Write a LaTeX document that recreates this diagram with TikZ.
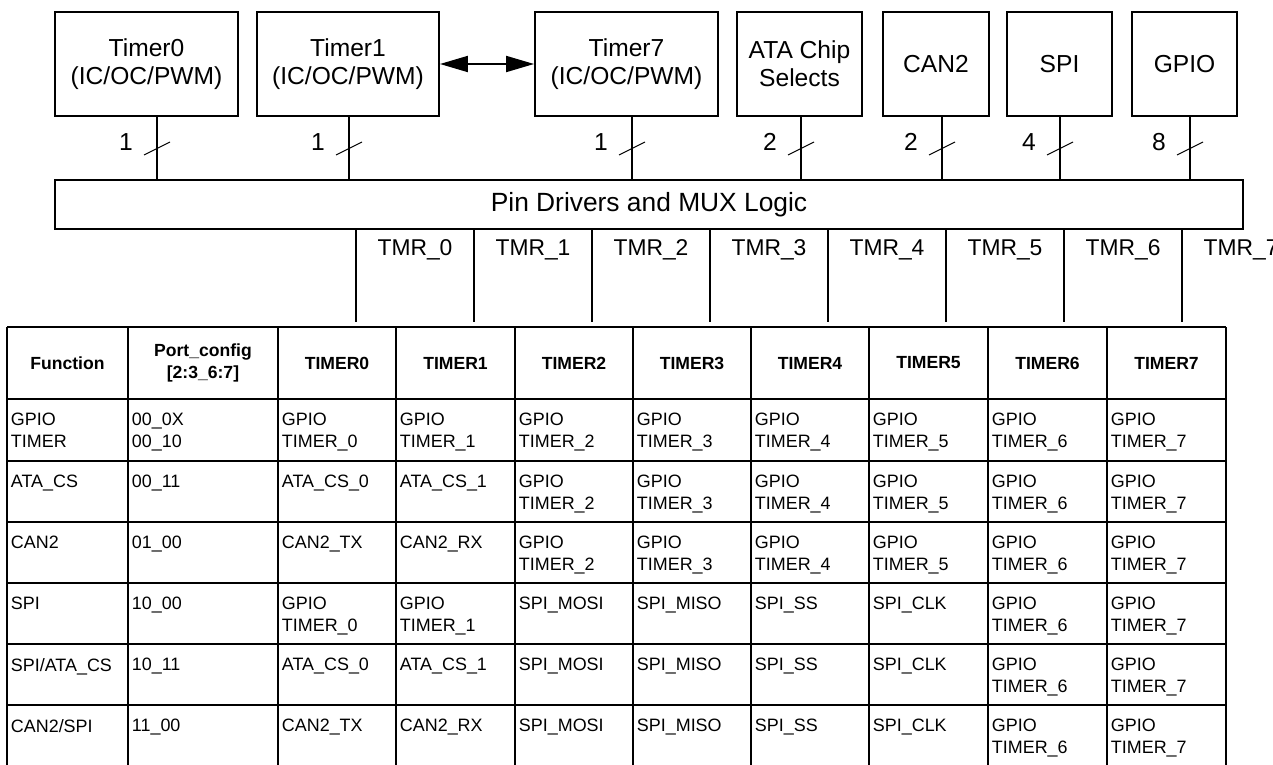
\documentclass[tikz,border=0pt]{standalone}
\usepackage{fontspec}
\setmainfont{Liberation Sans}
\usetikzlibrary{
  arrows.meta,
  calc,
}

\begin{document}
\begin{tikzpicture}[
  x=0.02cm, y=-0.02cm,
  line width=1.1pt,
  blk/.style={draw, align=center, minimum height=2.08cm, inner sep=0pt,
    font=\fontsize{14}{15.9}\selectfont},
  slash/.style={line width=0.6pt},
  wlbl/.style={font=\fontsize{14}{16}\selectfont},
  tmr/.style={font=\fontsize{13}{15}\selectfont},
  hdr/.style={font=\fontsize{10}{12.5}\selectfont\bfseries, align=center},
  cell/.style={font=\fontsize{10.2}{12.5}\selectfont, align=left,
    anchor=north west, inner sep=0pt},
]
  \useasboundingbox (0,0) rectangle (1273,764);

  % Peripheral blocks
  \node[blk, minimum width=3.66cm] (t0) at (146.5,64) {Timer0\\(IC/OC/PWM)};
  \node[blk, minimum width=3.64cm] (t1) at (348,64) {Timer1\\(IC/OC/PWM)};
  \node[blk, minimum width=3.66cm] (t7) at (626.5,64) {Timer7\\(IC/OC/PWM)};
  \node[blk, minimum width=2.5cm] (ata) at (799.5,64) {ATA Chip\\Selects};
  \node[blk, minimum width=2.12cm] (can) at (936,64) {CAN2};
  \node[blk, minimum width=2.1cm] (spi) at (1059.5,64) {SPI};
  \node[blk, minimum width=2.1cm] (gpio) at (1184.5,64) {GPIO};
  \draw[{Triangle[length=0.56cm,width=0.32cm]}-{Triangle[length=0.56cm,width=0.32cm]}]
    (t1.east) -- (t7.west);

  % Pin drivers
  \node[draw, minimum width=23.76cm, minimum height=0.98cm,
    font=\fontsize{15}{17}\selectfont] (pin) at (649,204.5)
    {Pin Drivers and MUX Logic};

  % Buses into the pin drivers
  \coordinate (sl) at (0,148.5);
  \coordinate (wl) at (0,142);
  \foreach \b/\w/\dx in {t0/1/10.5, t1/1/1, t7/1/5.5, ata/2/1.5, can/2/6, spi/4/0.5, gpio/8/5.5} {
    \coordinate (bt) at ($(\b.south)+(\dx,0)$);
    \draw (bt) -- (bt |- pin.north);
    \draw[slash] ($(bt |- sl)+(-13,6.5)$) -- ++(26,-13);
    \node[wlbl] (w\b) at ($(bt |- wl)+(-31,0)$) {\w};
  }

  % Timer outputs
  \foreach \i in {0,...,7} {
    \coordinate (tk\i) at ({356+118*\i},322);
    \draw (tk\i |- pin.south) -- (tk\i);
    \node[tmr] (tmr\i) at ({415+118*\i},250) {TMR\_\i};
  }

  % Table grid
  \foreach \x in {7,128,278,396,515,633,751,869,988,1107,1226}
    \draw (\x,327) -- (\x,767);
  \foreach \y in {327,399,461,522,583,644,705}
    \draw (7,\y) -- (1226,\y);

  % Header
  \node[hdr] (hfun) at (67.5,363) {Function};
  \node[hdr] (hcfg) at (203,363) {Port\_config\\{}[2:3\_6:7]};
  \foreach \i/\cx in {0/337, 1/455.5, 2/574, 3/692, 4/810, 5/928.5, 6/1047.5, 7/1166.5}
    \node[hdr] (h\i) at (\cx,363) {TIMER\i};

  % Rows
  \foreach \x/\t in {7/{GPIO\\TIMER}, 128/{00\_0X\\00\_10}, 278/{GPIO\\TIMER\_0},
      396/{GPIO\\TIMER\_1}, 515/{GPIO\\TIMER\_2}, 633/{GPIO\\TIMER\_3},
      751/{GPIO\\TIMER\_4}, 869/{GPIO\\TIMER\_5}, 988/{GPIO\\TIMER\_6},
      1107/{GPIO\\TIMER\_7}}
    \node[cell] (ra\x) at (\x+3,412.5) {\t};
  \foreach \x/\t in {7/{ATA\_CS}, 128/{00\_11}, 278/{ATA\_CS\_0},
      396/{ATA\_CS\_1}, 515/{GPIO\\TIMER\_2}, 633/{GPIO\\TIMER\_3},
      751/{GPIO\\TIMER\_4}, 869/{GPIO\\TIMER\_5}, 988/{GPIO\\TIMER\_6},
      1107/{GPIO\\TIMER\_7}}
    \node[cell] (rb\x) at (\x+3,474.5) {\t};
  \foreach \x/\t in {7/{CAN2}, 128/{01\_00}, 278/{CAN2\_TX},
      396/{CAN2\_RX}, 515/{GPIO\\TIMER\_2}, 633/{GPIO\\TIMER\_3},
      751/{GPIO\\TIMER\_4}, 869/{GPIO\\TIMER\_5}, 988/{GPIO\\TIMER\_6},
      1107/{GPIO\\TIMER\_7}}
    \node[cell] (rc\x) at (\x+3,535.5) {\t};
  \foreach \x/\t in {7/{SPI}, 128/{10\_00}, 278/{GPIO\\TIMER\_0},
      396/{GPIO\\TIMER\_1}, 515/{SPI\_MOSI}, 633/{SPI\_MISO},
      751/{SPI\_SS}, 869/{SPI\_CLK}, 988/{GPIO\\TIMER\_6},
      1107/{GPIO\\TIMER\_7}}
    \node[cell] (rd\x) at (\x+3,596.5) {\t};
  \foreach \x/\t in {7/{SPI/ATA\_CS}, 128/{10\_11}, 278/{ATA\_CS\_0},
      396/{ATA\_CS\_1}, 515/{SPI\_MOSI}, 633/{SPI\_MISO},
      751/{SPI\_SS}, 869/{SPI\_CLK}, 988/{GPIO\\TIMER\_6},
      1107/{GPIO\\TIMER\_7}}
    \node[cell] (re\x) at (\x+3,657.5) {\t};
  \foreach \x/\t in {7/{CAN2/SPI}, 128/{11\_00}, 278/{CAN2\_TX},
      396/{CAN2\_RX}, 515/{SPI\_MOSI}, 633/{SPI\_MISO},
      751/{SPI\_SS}, 869/{SPI\_CLK}, 988/{GPIO\\TIMER\_6},
      1107/{GPIO\\TIMER\_7}}
    \node[cell] (rf\x) at (\x+3,718.5) {\t};

\end{tikzpicture}
\end{document}
